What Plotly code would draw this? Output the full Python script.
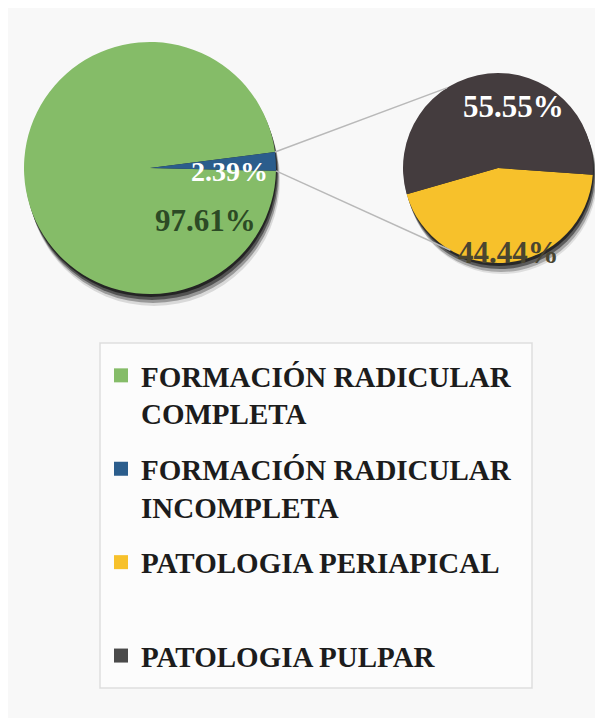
import math
import plotly.graph_objects as go

# data
main_labels = ["FORMACIÓN RADICULAR COMPLETA", "FORMACIÓN RADICULAR INCOMPLETA"]
main_values = [97.61, 2.39]
main_colors = ["#85bc68", "#2b5d8c"]

sub_labels = ["PATOLOGIA PERIAPICAL", "PATOLOGIA PULPAR"]
sub_values = [44.44, 55.55]
sub_colors = ["#f7c12b", "#443c3e"]

legend_names = [
    "FORMACIÓN RADICULAR<br>COMPLETA",
    "FORMACIÓN RADICULAR<br>INCOMPLETA",
    "PATOLOGIA PERIAPICAL<br>&nbsp;",
    "PATOLOGIA PULPAR",
]
legend_colors = [main_colors[0], main_colors[1], sub_colors[0], "#4a4a4a"]

# page body has an 8px margin, so figure coords = screen coords - 8
OFF = 8
W, H = 595, 710
SERIF = "Liberation Serif, Times New Roman, serif"


def px(x):
    return (x - OFF) / W


def py(y):
    return 1 - (y - OFF) / H


def dom(cx, cy, r):
    return dict(x=[px(cx - r), px(cx + r)], y=[py(cy + r), py(cy - r)])


def on_circle(cx, cy, r, compass):
    a = math.radians(compass)
    return cx + r * math.sin(a), cy - r * math.cos(a)


MAIN_C, MAIN_R = (150, 168), 126
SUB_C, SUB_R = (498, 168), 95
MAIN_ROT = 91.3   # counterclockwise: last slice ends here
SUB_ROT = 94

fig = go.Figure()

# soft shadows
for (cx, cy, r), shifts in [((*MAIN_C, MAIN_R), [(1, 3, 0.55), (2, 6, 0.45), (3, 9, 0.3), (4, 12, 0.12)]),
                            ((*SUB_C, SUB_R), [(1, 3, 0.55), (2, 6, 0.45), (3, 9, 0.25), (4, 11, 0.1)])]:
    for dx, dy, a in shifts:
        fig.add_trace(go.Pie(values=[1], labels=["s"], domain=dom(cx + dx, cy + dy, r),
                             marker=dict(colors=[f"rgba(0,0,0,{a})"], line=dict(width=0)),
                             textinfo="none", hoverinfo="skip", showlegend=False, sort=False))

fig.add_trace(go.Pie(values=main_values, labels=main_labels, domain=dom(*MAIN_C, MAIN_R),
                     marker=dict(colors=main_colors, line=dict(width=0)),
                     sort=False, direction="counterclockwise", rotation=MAIN_ROT,
                     textinfo="none", showlegend=False))
fig.add_trace(go.Pie(values=sub_values, labels=sub_labels, domain=dom(*SUB_C, SUB_R),
                     marker=dict(colors=sub_colors, line=dict(width=0)),
                     sort=False, direction="clockwise", rotation=SUB_ROT,
                     textinfo="none", showlegend=False))

# legend entries
for i, (n, c) in enumerate(zip(legend_names, legend_colors)):
    fig.add_trace(go.Scatter(x=[None], y=[None], mode="markers", name=n, legendgroup=str(i),
                             marker=dict(symbol="square", size=14, color=c)))

# connector lines from the small slice to the second pie
blue_span = main_values[1] / sum(main_values) * 360
p1 = on_circle(*MAIN_C, MAIN_R, MAIN_ROT - blue_span)
p2 = on_circle(*MAIN_C, MAIN_R, MAIN_ROT)
q1 = on_circle(*SUB_C, SUB_R, 327.5)
q2 = on_circle(*SUB_C, SUB_R, 210)

shapes = [
    dict(type="rect", xref="paper", yref="paper", x0=px(100), x1=px(532), y0=py(688), y1=py(343),
         fillcolor="#fcfcfc", line=dict(color="#dedede", width=1.5), layer="below"),
]
for a, b in [(p1, q1), (p2, q2)]:
    shapes.append(dict(type="line", xref="paper", yref="paper", x0=px(a[0]), y0=py(a[1]),
                       x1=px(b[0]), y1=py(b[1]), line=dict(color="#b9b9b9", width=1.5)))

ann = []
for txt, (x, y), col, sz in [
    (f"{main_values[1]:.2f}%", (229, 171), "white", 28),
    (f"{main_values[0]:.2f}%", (205, 220), "#2c4a25", 31),
    (f"{sub_values[1]:.2f}%", (513, 106), "white", 31),
    (f"{sub_values[0]:.2f}%", (508, 252), "#4a4530", 31),
]:
    ann.append(dict(text=f"<b>{txt}</b>", x=px(x), y=py(y), xref="paper", yref="paper",
                    xanchor="center", yanchor="middle", showarrow=False,
                    font=dict(family=SERIF, size=sz, color=col)))

fig.update_layout(
    width=W, height=H, margin=dict(l=0, r=0, t=0, b=0),
    paper_bgcolor="#f8f8f8", plot_bgcolor="rgba(0,0,0,0)",
    xaxis=dict(visible=False), yaxis=dict(visible=False),
    shapes=shapes, annotations=ann,
    legend=dict(x=px(101), y=py(350), xanchor="left", yanchor="top",
                bgcolor="rgba(0,0,0,0)", borderwidth=0, tracegroupgap=15, valign="top",
                font=dict(family=SERIF, size=29, color="#1c1c1c", weight="bold")),
)

fig.write_html("out.html")
